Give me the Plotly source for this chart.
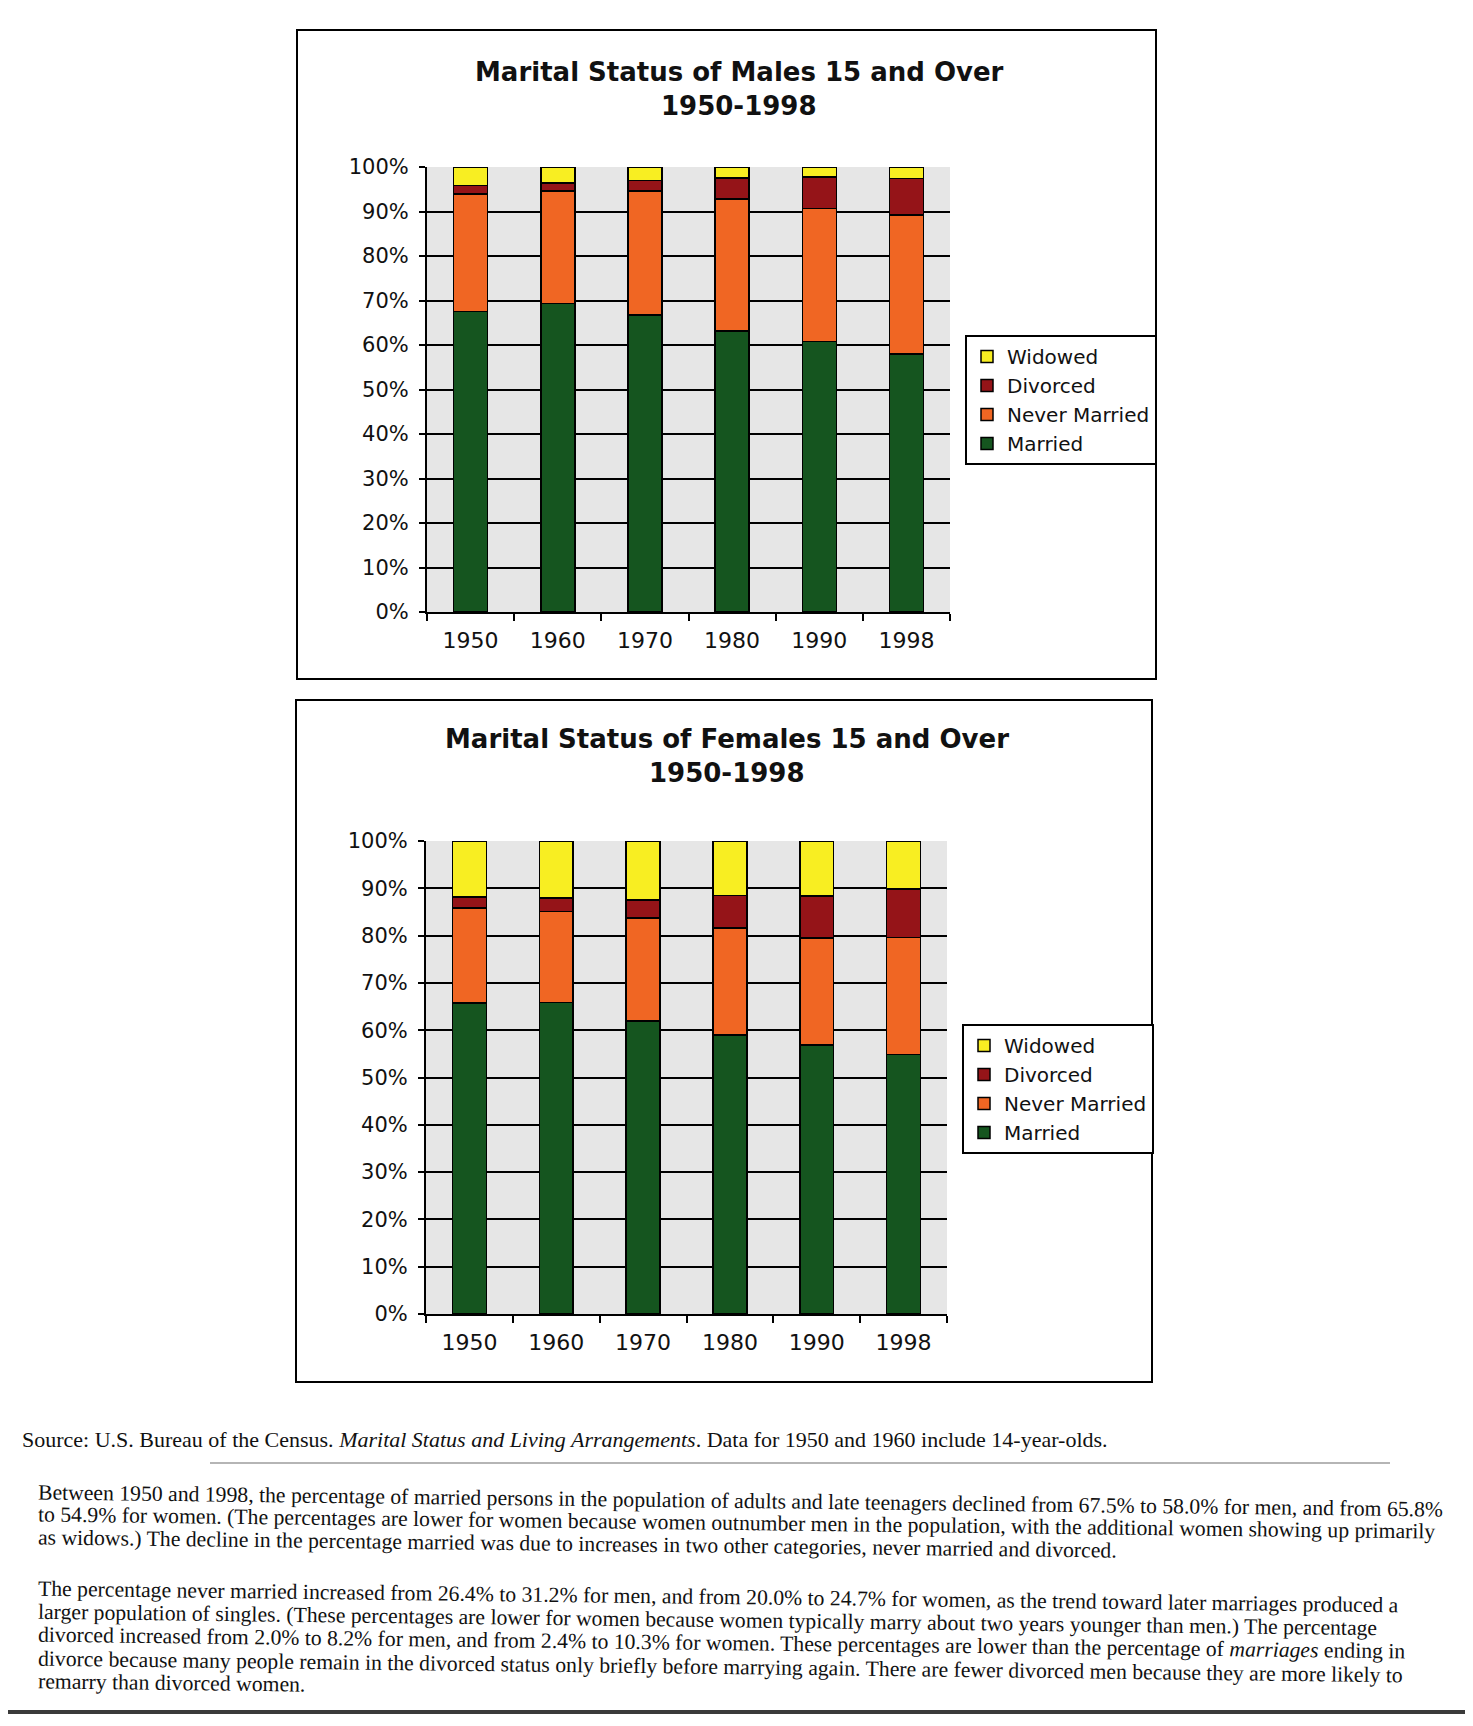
import math
import re
import plotly.graph_objects as go

W, H = 1473, 1726
OFF = 8  # page body margin in the browser

years = ["1950", "1960", "1970", "1980", "1990", "1998"]
y_ticks = [0, 10, 20, 30, 40, 50, 60, 70, 80, 90, 100]
y_tick_text = ["0%", "10%", "20%", "30%", "40%", "50%", "60%", "70%", "80%", "90%", "100%"]

series_names = ["Married", "Never Married", "Divorced", "Widowed"]
series_colors = ["#15551f", "#f06623", "#951418", "#f8ee22"]

male_married = [67.5, 69.3, 66.7, 63.2, 60.8, 58.0]
male_never = [26.4, 25.3, 27.9, 29.6, 29.9, 31.2]
male_divorced = [2.0, 1.8, 2.4, 4.7, 7.0, 8.2]
male_widowed = [4.1, 3.6, 3.0, 2.5, 2.3, 2.6]

female_married = [65.8, 65.9, 61.9, 59.0, 56.9, 54.9]
female_never = [20.0, 19.2, 21.8, 22.6, 22.6, 24.7]
female_divorced = [2.4, 2.9, 3.8, 6.9, 8.9, 10.3]
female_widowed = [11.8, 12.0, 12.5, 11.5, 11.6, 10.1]

male_title = ["Marital Status of Males 15 and Over", "1950-1998"]
female_title = ["Marital Status of Females 15 and Over", "1950-1998"]

source_text = ("Source: U.S. Bureau of the Census. <i>Marital Status and Living Arrangements</i>. "
               "Data for 1950 and 1960 include 14-year-olds.")
para1 = [
    "Between 1950 and 1998, the percentage of married persons in the population of adults and late teenagers declined from 67.5% to 58.0% for men, and from 65.8%",
    "to 54.9% for women. (The percentages are lower for women because women outnumber men in the population, with the additional women showing up primarily",
    "as widows.) The decline in the percentage married was due to increases in two other categories, never married and divorced.",
]
para2 = [
    "The percentage never married increased from 26.4% to 31.2% for men, and from 20.0% to 24.7% for women, as the trend toward later marriages produced a",
    "larger population of singles. (These percentages are lower for women because women typically marry about two years younger than men.) The percentage",
    "divorced increased from 2.0% to 8.2% for men, and from 2.4% to 10.3% for women. These percentages are lower than the percentage of <i>marriages</i> ending in",
    "divorce because many people remain in the divorced status only briefly before marrying again. There are fewer divorced men because they are more likely to",
    "remarry than divorced women.",
]


def px(x):
    return (x - OFF) / W


def py(y):
    return 1 - (y - OFF) / H


fig = go.Figure()

male_vals = [male_married, male_never, male_divorced, male_widowed]
female_vals = [female_married, female_never, female_divorced, female_widowed]

for name, col, vals in zip(series_names, series_colors, male_vals):
    fig.add_trace(go.Bar(x=years, y=vals, name=name, xaxis="x", yaxis="y",
                         marker=dict(color=col, line=dict(color="black", width=1.5)),
                         legend="legend"))
for name, col, vals in zip(series_names, series_colors, female_vals):
    fig.add_trace(go.Bar(x=years, y=vals, name=name, xaxis="x2", yaxis="y2",
                         marker=dict(color=col, line=dict(color="black", width=1.5)),
                         legend="legend2"))


def xaxis(domain, anchor):
    return dict(domain=domain, anchor=anchor, type="category", showline=True,
                linecolor="black", linewidth=2, ticks="outside", ticklen=7,
                tickwidth=2, tickcolor="black", tickson="boundaries",
                showgrid=False, tickfont=dict(family="DejaVu Sans", size=22, color="#111"),
                ticklabelstandoff=8, fixedrange=True, automargin=False)


def yaxis(domain, anchor):
    return dict(domain=domain, anchor=anchor, range=[0, 100], tickvals=y_ticks,
                ticktext=y_tick_text, showline=True, linecolor="black", linewidth=2,
                ticks="outside", ticklen=6, tickwidth=2, tickcolor="black",
                showgrid=True, gridcolor="black", gridwidth=2, zeroline=False,
                tickfont=dict(family="DejaVu Sans", size=21, color="#111"),
                ticklabelstandoff=6, fixedrange=True, automargin=False)


legend_common = dict(bgcolor="white", bordercolor="black", borderwidth=2,
                     font=dict(family="DejaVu Sans", size=20, color="#111"),
                     traceorder="reversed", xanchor="left", yanchor="top",
                     itemwidth=30, itemclick=False)

title_font = dict(family="DejaVu Sans", size=26, color="#111", weight="bold")
annotations = []
for line, yy in zip(male_title, [72, 106]):
    annotations.append(dict(text=line, x=px(739), y=py(yy), xref="paper", yref="paper",
                            showarrow=False, xanchor="center", yanchor="middle", font=title_font))
for line, yy in zip(female_title, [739, 773]):
    annotations.append(dict(text=line, x=px(727), y=py(yy), xref="paper", yref="paper",
                            showarrow=False, xanchor="center", yanchor="middle", font=title_font))

annotations.append(dict(text=source_text, x=px(20), y=py(1439), xref="paper", yref="paper",
                        showarrow=False, xanchor="left", yanchor="middle",
                        font=dict(family="Liberation Serif", size=22, color="#111")))

SKEW = 0.7  # degrees, the scanned text runs slightly downhill
text_font = dict(family="Liberation Serif", size=21.7, color="#111")


def add_line(line, left_y):
    plain = re.sub(r"<[^>]+>", "", line)
    width = len(plain) * 9.07
    cy = left_y + 0.5 * width * math.tan(math.radians(SKEW))
    annotations.append(dict(text=line, x=px(36), y=py(cy), xref="paper", yref="paper",
                            showarrow=False, xanchor="left", yanchor="middle",
                            textangle=SKEW, font=text_font))


for i, line in enumerate(para1):
    add_line(line, 1492 + 22.5 * i)
for i, line in enumerate(para2):
    add_line(line, 1589 + 23 * i)

shapes = [
    dict(type="rect", xref="paper", yref="paper", x0=px(297), x1=px(1156), y0=py(679), y1=py(30),
         line=dict(color="black", width=2)),
    dict(type="rect", xref="paper", yref="paper", x0=px(296), x1=px(1152), y0=py(1382), y1=py(700),
         line=dict(color="black", width=2)),
    dict(type="line", xref="paper", yref="paper", x0=px(210), x1=px(1390), y0=py(1463), y1=py(1463),
         line=dict(color="#b5b5b5", width=2)),
    dict(type="line", xref="paper", yref="paper", x0=0, x1=1, y0=py(1712), y1=py(1712),
         line=dict(color="#3a3a3a", width=4)),
]

fig.update_layout(
    width=W, height=H, margin=dict(l=0, r=0, t=0, b=0, autoexpand=False),
    paper_bgcolor="white", plot_bgcolor="#e6e6e6",
    barmode="stack", bargap=0.61,
    xaxis=xaxis([px(427), px(950)], "y"),
    yaxis=yaxis([py(612), py(167)], "x"),
    xaxis2=xaxis([px(426), px(947)], "y2"),
    yaxis2=yaxis([py(1314), py(841)], "x2"),
    legend=dict(x=px(965), y=py(335), **legend_common),
    legend2=dict(x=px(962), y=py(1024), **legend_common),
    annotations=annotations,
    shapes=shapes,
    showlegend=True,
)

fig.write_html("out.html")
